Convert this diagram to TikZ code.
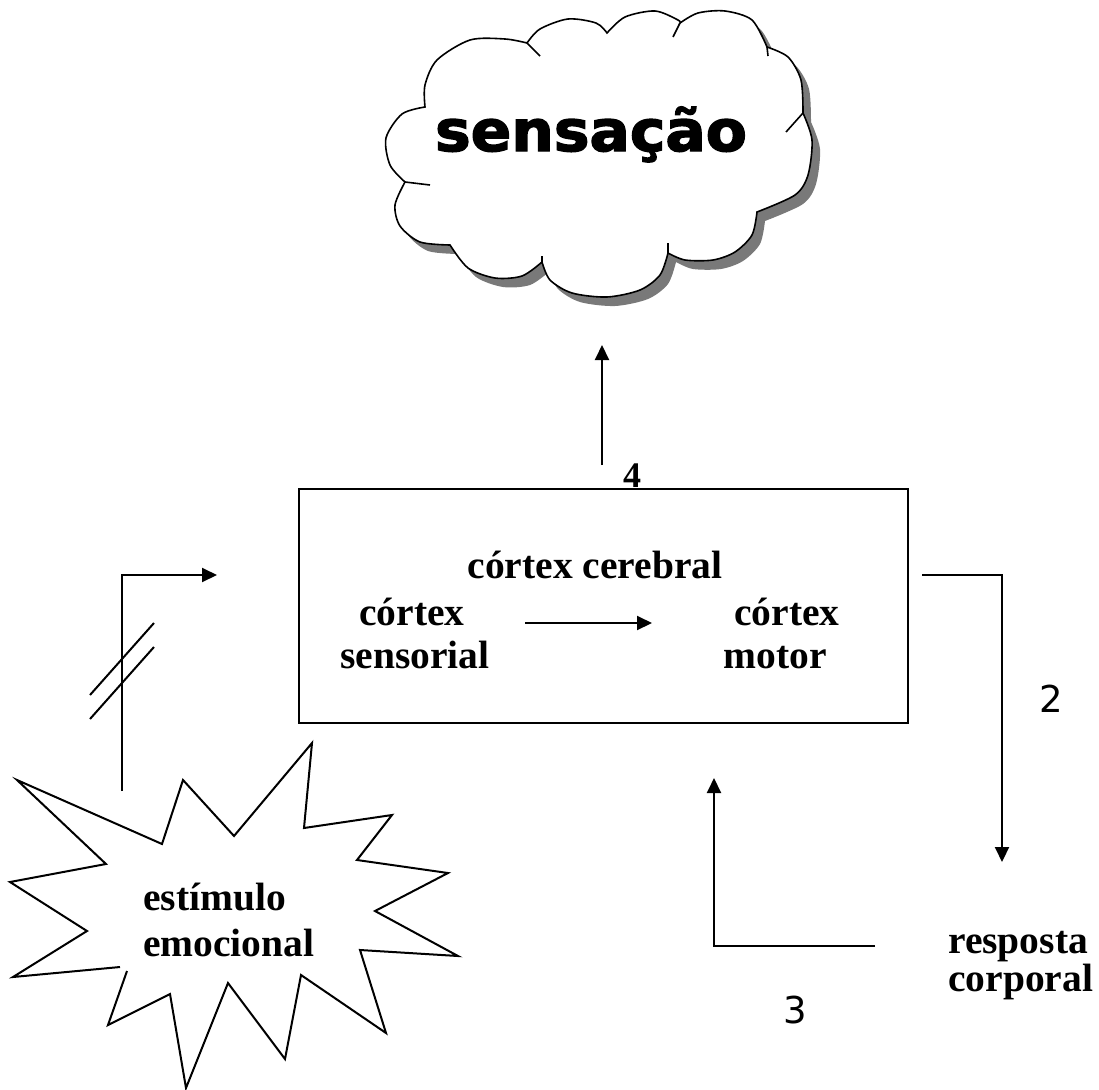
\documentclass[tikz,border=0pt]{standalone}
\usepackage{fontspec}
\setmainfont{Liberation Serif}
\newfontfamily\digitfont{DejaVu Sans}
\newfontfamily\cloudfont[FakeBold=2.5]{DejaVu Sans Bold}
\usetikzlibrary{arrows.meta}
\begin{document}
\begin{tikzpicture}[x=1pt,y=-1pt,
  thick line/.style={line width=2pt},
  arr/.style={line width=2pt,-{Triangle[length=15pt,width=14pt]}},
  lbl/.style={font=\fontsize{39.5}{43}\selectfont\bfseries,inner sep=0pt},
  num/.style={font=\digitfont\fontsize{37}{40}\selectfont,inner sep=0pt},
  boxstyle/.style={draw,line width=2pt,inner sep=0pt,minimum width=609pt,minimum height=234pt},
  cloudline/.style={line width=1.6pt}]
\useasboundingbox (0,0) rectangle (1099,1089);
\def\cloudpath{(425,107) -- plot[smooth] coordinates {(425,107) (425,85) (437,60) (470,40) (505,39) (527,43)}
 -- plot[smooth] coordinates {(527,43) (540,29) (568,19) (596,23) (607,33)}
 -- plot[smooth] coordinates {(607,33) (625,17) (655,11) (678,20) (680,23)}
 -- plot[smooth] coordinates {(680,23) (698,13) (725,11) (752,20) (767,47)}
 -- plot[smooth] coordinates {(767,47) (788,57) (801,80) (803,113)}
 -- plot[smooth] coordinates {(803,113) (812,140) (808,175) (795,195) (757,212)}
 -- plot[smooth] coordinates {(757,212) (752,235) (735,252) (713,260) (685,260) (668,253)}
 -- plot[smooth] coordinates {(668,253) (660,275) (640,290) (607,297) (572,293) (550,280) (542,262)}
 -- plot[smooth] coordinates {(542,262) (522,276) (495,278) (468,268) (450,245)}
 -- plot[smooth] coordinates {(450,245) (420,242) (400,226) (395,205) (405,182)}
 -- plot[smooth] coordinates {(405,182) (390,165) (386,138) (402,114) (425,107)} -- cycle}
% cloud shadow and cloud
\begin{scope}[shift={(8,9)}]
\fill[gray!95!black] \cloudpath;
\end{scope}
\filldraw[fill=white,draw=black,cloudline] \cloudpath;
\draw[cloudline] (527,43) -- (540,56) (680,23) -- (673,37) (767,47) -- (768,56)
  (803,113) -- (786,132) (668,253) -- (668,243) (542,262) -- (542,256) (405,182) -- (430,185);
\node[font=\cloudfont\fontsize{57}{60}\selectfont,inner sep=0pt,anchor=base] (sens) at (591,151) {\scalebox{1.05}[1]{sensação}};

% box
\node[boxstyle,anchor=north west] (box) at (298,488) {};
\node[lbl,anchor=base] (cc) at (595,578) {córtex cerebral};
\node[lbl,anchor=base] (cs1) at (412,625) {córtex};
\node[lbl,anchor=base] (cs2) at (415,668) {sensorial};
\node[lbl,anchor=base] (cm1) at (787,625) {córtex};
\node[lbl,anchor=base] (cm2) at (775,668) {motor};
\coordinate (ia) at (525,623);
\coordinate (ib) at (652,623);
\draw[arr] (ia) -- (ib);

% arrow 4
\coordinate (s4) at (602,465);
\coordinate (e4) at (602,345);
\draw[arr] (s4) -- (e4);
\node[lbl,font=\fontsize{36}{40}\selectfont\bfseries,anchor=base] (n4) at (632,487) {4};

% arrow 1 with double slash
\coordinate (s1) at (122,791);
\coordinate (e1) at (217,575);
\draw[arr] (s1) |- (e1);
\coordinate (sa1) at (90,695); \coordinate (sa2) at (154,623);
\coordinate (sb1) at (90,719); \coordinate (sb2) at (154,647);
\draw[thick line] (sa1) -- (sa2);
\draw[thick line] (sb1) -- (sb2);

% arrow 2
\coordinate (s2) at (922,575);
\coordinate (e2) at (1002,862);
\draw[arr] (s2) -| (e2);
\node[num,anchor=base] (n2) at (1051,712) {2};

% arrow 3
\coordinate (s3) at (875,946);
\coordinate (e3) at (714,778);
\draw[arr] (s3) -| (e3);
\node[num,anchor=base] (n3) at (795,1023) {3};

% response
\node[lbl,anchor=base west] (r1) at (948,953) {resposta};
\node[lbl,anchor=base west] (r2) at (948,991) {corporal};

% starburst
\draw[line width=2pt,line join=miter] (120,967) -- (13,977) -- (87,931) -- (10,882) -- (106,864) -- (17,780)
  -- (162,844) -- (183,780) -- (234,836) -- (312,743) -- (304,828) -- (392,815) -- (357,860)
  -- (448,873) -- (375,911) -- (458,956) -- (360,950) -- (386,1033) -- (301,975) -- (285,1059)
  -- (228,983) -- (186,1088) -- (170,994) -- (108,1025) -- (127,971);
\node[lbl,anchor=base west] (st1) at (143,910) {estímulo};
\node[lbl,anchor=base west] (st2) at (143,956) {emocional};
\end{tikzpicture}
\end{document}
